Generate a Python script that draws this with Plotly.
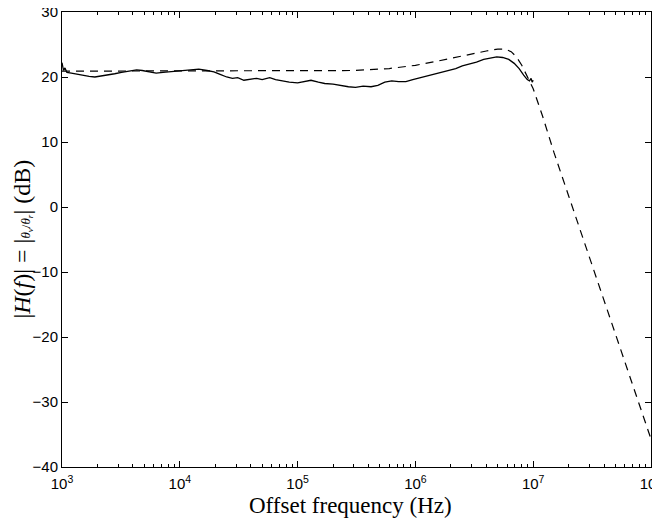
import plotly.graph_objects as go

# Measured response (solid)
meas_freq = [1.00e3, 1.03e3, 1.06e3, 1.10e3, 1.2e3, 1.35e3, 1.5e3, 1.7e3, 1.9e3, 2.1e3,
             2.4e3, 2.8e3, 3.2e3, 3.7e3, 4.3e3, 4.8e3, 5.5e3, 6.3e3, 7.2e3, 8.3e3,
             9.5e3, 1.1e4, 1.25e4, 1.45e4, 1.7e4, 1.95e4, 2.2e4, 2.5e4, 2.8e4, 3.1e4,
             3.5e4, 4.0e4, 4.5e4, 5.0e4, 5.8e4, 6.5e4, 7.5e4, 8.5e4, 1.0e5, 1.15e5,
             1.3e5, 1.5e5, 1.7e5, 2.0e5, 2.3e5, 2.7e5, 3.1e5, 3.6e5, 4.2e5, 4.8e5,
             5.5e5, 6.3e5, 7.2e5, 8.3e5, 9.5e5, 1.1e6, 1.25e6, 1.45e6, 1.65e6, 1.9e6,
             2.2e6, 2.5e6, 2.9e6, 3.3e6, 3.8e6, 4.3e6, 4.9e6, 5.5e6, 6.2e6, 6.9e6,
             7.6e6, 8.3e6, 8.9e6, 9.3e6, 9.6e6, 9.8e6, 1.0e7]
meas_db = [22.2, 21.0, 21.4, 20.7, 20.6, 20.4, 20.3, 20.1, 20.0, 20.1,
           20.3, 20.5, 20.7, 20.9, 21.1, 21.0, 20.8, 20.6, 20.7, 20.8,
           20.9, 21.0, 21.1, 21.2, 21.0, 20.8, 20.4, 20.0, 19.8, 19.9,
           19.5, 19.6, 19.8, 19.6, 19.9, 19.6, 19.4, 19.2, 19.1, 19.3,
           19.5, 19.2, 19.0, 18.9, 18.7, 18.5, 18.4, 18.6, 18.5, 18.7,
           19.2, 19.4, 19.3, 19.3, 19.6, 19.9, 20.2, 20.5, 20.7, 21.0,
           21.3, 21.7, 22.0, 22.3, 22.7, 22.9, 23.1, 23.0, 22.7, 22.1,
           21.3, 20.3, 19.6, 19.4, 19.8, 19.2, 19.5]

# Model response (dashed)
model_freq = [1e3, 1e4, 1e5, 3e5, 6e5, 1e6, 1.5e6, 2e6, 3e6, 4e6, 5e6, 5.8e6,
              6.5e6, 7.2e6, 8e6, 9e6, 1e7, 1.2e7, 1.5e7, 2e7, 3e7, 5e7, 7e7, 1e8]
model_db = [20.9, 20.9, 20.9, 21.0, 21.3, 21.8, 22.4, 22.9, 23.6, 24.0, 24.3, 24.3,
            23.9, 23.1, 21.8, 20.0, 18.2, 14.0, 8.4, 1.7, -7.7, -19.6, -27.5, -35.7]

x_tickvals = [1e3, 1e4, 1e5, 1e6, 1e7, 1e8]
x_ticktext = ["10<sup>3</sup>", "10<sup>4</sup>", "10<sup>5</sup>",
              "10<sup>6</sup>", "10<sup>7</sup>", "10<sup>8</sup>"]
y_tickvals = [-40, -30, -20, -10, 0, 10, 20, 30]

fig = go.Figure()
fig.add_trace(go.Scatter(x=model_freq, y=model_db, mode="lines",
                         line=dict(color="black", width=1.2, dash="8px,6px"),
                         showlegend=False, cliponaxis=False))
fig.add_trace(go.Scatter(x=meas_freq, y=meas_db, mode="lines",
                         line=dict(color="black", width=1.3),
                         showlegend=False))

tick_font = dict(family="Liberation Sans, Arial, sans-serif", size=15, color="black")
serif = "Liberation Serif, DejaVu Serif, serif"

# the page body adds an 8px margin, so the figure is sized to fill the rest
fig.update_layout(
    width=652, height=510,
    margin=dict(l=54, r=9, t=4, b=51),
    paper_bgcolor="white", plot_bgcolor="white",
    xaxis=dict(type="log", range=[3, 8], tickvals=x_tickvals, ticktext=x_ticktext,
               ticks="inside", ticklen=6, tickcolor="black", showline=True,
               linecolor="black", linewidth=1, mirror="ticks", showgrid=False,
               zeroline=False, tickfont=tick_font, automargin=False,
               ticklabeloverflow="allow", ticklabelstandoff=3,
               minor=dict(ticks="inside", ticklen=3, tickcolor="black", dtick="D1",
                          showgrid=False)),
    yaxis=dict(range=[-40, 30], tickvals=y_tickvals, ticks="inside", ticklen=6,
               tickcolor="black", showline=True, linecolor="black", linewidth=1,
               mirror="ticks", showgrid=False, zeroline=False, tickfont=tick_font,
               automargin=False, ticklabeloverflow="allow"),
    annotations=[
        dict(text="Offset frequency (Hz)", x=0.489, xref="paper", y=-0.0845, yref="paper",
             xanchor="center", yanchor="middle", showarrow=False,
             font=dict(family=serif, size=23, color="black")),
        dict(text="|<i>H</i>(<i>f</i>)| = |<span style='font-size:13px'><i>θ<sub>v</sub></i>"
                  "/<i>θ<sub>r</sub></i></span>| (dB)",
             x=-0.067, xref="paper", y=0.501, yref="paper", textangle=-90,
             xanchor="center", yanchor="middle", showarrow=False,
             font=dict(family=serif, size=24, color="black")),
    ],
)

fig.write_html("out.html")
